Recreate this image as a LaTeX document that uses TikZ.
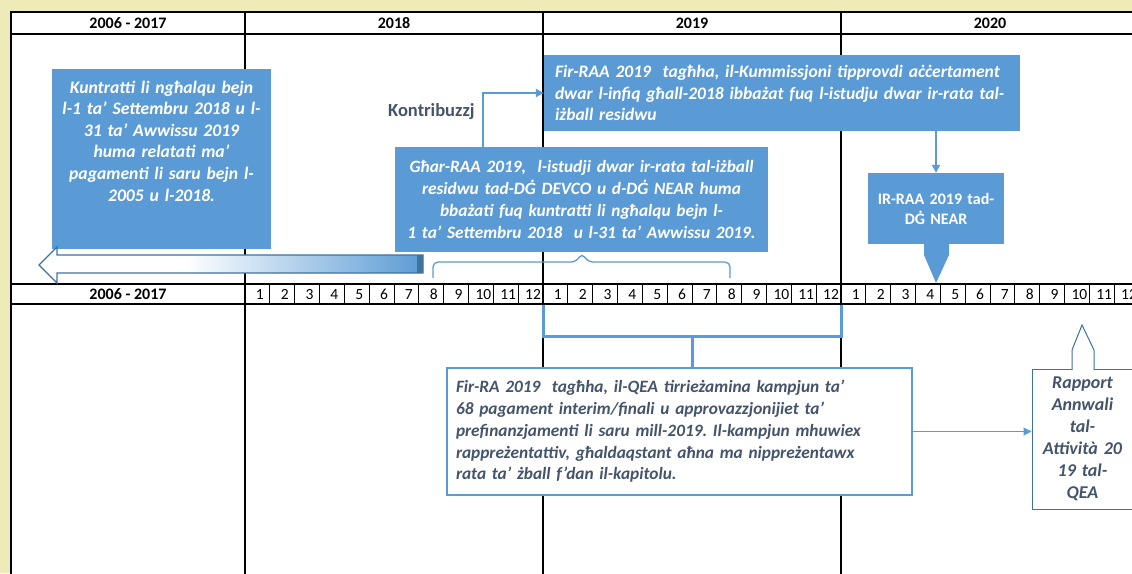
\documentclass[tikz,border=0pt]{standalone}
\usepackage{fontspec}
\setmainfont{Carlito}
\frenchspacing
\usetikzlibrary{arrows.meta,positioning}
\definecolor{ecablue}{HTML}{5B9BD5}
\definecolor{ecaedge}{HTML}{41719C}
\definecolor{ecagray}{HTML}{44546A}
\definecolor{ecapaper}{HTML}{EEEBB8}
\pgfdeclarehorizontalshading{backarrow}{100bp}{color(0bp)=(white); color(25bp)=(white); color(44bp)=(white); color(75bp)=(ecablue); color(100bp)=(ecablue)}

\tikzset{
  gridrule/.style={line width=2.6pt, black, line cap=rect},
  monthrule/.style={line width=0.8pt, black},
  yearlabel/.style={font=\fontsize{16}{19}\selectfont\bfseries, inner sep=0pt},
  monthlabel/.style={font=\fontsize{15.5}{18}\selectfont, inner sep=0pt},
  bluebox/.style={fill=ecablue, text=white, inner sep=0pt, font=\fontsize{17.3}{21.7}\selectfont\bfseries\itshape},
  whitebox/.style={fill=white, text=ecagray, inner sep=0pt, font=\fontsize{17.3}{21.7}\selectfont\bfseries\itshape},
  blueconn/.style={draw=ecablue, line width=2pt},
  smalltip/.style={-{Triangle[length=8pt,width=8pt]}},
}

\begin{document}
\begin{tikzpicture}[x=1pt, y=-1pt]
  \useasboundingbox (0,0) rectangle (1132,573);
  \fill[ecapaper] (0,0) rectangle (1132,573);

  % Timeline table
  \begin{scope}
    \clip (0,0) rectangle (1132,573);
    \fill[white] (11,12) rectangle (1150,580);
    \foreach \y in {12,34,284,304}
      \draw[gridrule] (11,\y) -- (1150,\y);
    \foreach \x in {11,245,543,841}
      \draw[gridrule] (\x,12) -- (\x,580);
    \foreach \c in {0,1,2} {
      \foreach \m in {1,...,12} {
        \node[monthlabel] (m\c-\m) at ({245+298*\c+(\m-0.4)*24.833},294.5) {\m};
        \draw[monthrule] ({245+298*\c+\m*24.833},284) -- ++(0,20);
      }
    }
  \end{scope}

  \node[yearlabel] (hdpast) at (128,23) {2006 - 2017};
  \node[yearlabel] (hd2018) at (394,23) {2018};
  \node[yearlabel] (hd2019) at (692,23) {2019};
  \node[yearlabel] (hd2020) at (990,23) {2020};
  \node[yearlabel] (mopast) at (128,294.5) {2006 - 2017};

  % Contracts box
  \node[bluebox, minimum width=219, minimum height=180] (contracts) at (161.5,159) {};
  \node[bluebox, fill=none, font=\fontsize{17.6}{21.6}\selectfont\bfseries\itshape, text width=212, align=center] (contractstext) at (161.5,141) {Kuntratti li ngħalqu bejn\\
    l-1 ta’ Settembru 2018 u l-\\
    31 ta’ Awwissu 2019\\
    huma relatati ma’\\
    pagamenti li saru bejn l-\\
    2005 u l-2018.};

  % Back arrow
  \shade[shading=backarrow, draw=ecaedge, line width=1.3pt]
    (423,255) -- (57,255) -- (57,247) -- (39,265) -- (57,283) -- (57,273) -- (423,273) -- cycle;
  \fill[ecaedge] (417,255) rectangle (423,273);

  % Studies box
  \node[bluebox, minimum width=373, minimum height=105, text width=365, align=center] (studies) at (581.5,199.5) {Għar-RAA 2019,\ \ l-istudji dwar ir-rata tal-iżball\\
    residwu tad-DĠ DEVCO u d-DĠ NEAR huma\\
    bbażati fuq kuntratti li ngħalqu bejn l-\\
    1 ta’ Settembru 2018\ \ u l-31 ta’ Awwissu 2019.};

  % Brace
  \coordinate (bracetip) at (582,253);
  \draw[ecablue, line width=1.3pt, rounded corners=5pt]
    (433,278) |- (576,262) -- (bracetip) -- (588,262) -| (730,278);

  % Commission box
  \node[bluebox, font=\fontsize{17.5}{21.7}\selectfont\bfseries\itshape, minimum width=476, minimum height=76, text width=454, align=left] (commission) at (782,93) {Fir-RAA 2019\ \ tagħha, il-Kummissjoni tipprovdi aċċertament\\
    dwar l-infiq għall-2018 ibbażat fuq l-istudju dwar ir-rata tal-\\
    iżball residwu};

  \begin{scope}
    \clip (380,95) rectangle (474,130);
    \node[font=\fontsize{18.5}{20}\selectfont\bfseries, text=ecagray, anchor=west, inner sep=0pt] (contrib) at (388,112) {Kontribuzzjoni};
  \end{scope}

  \draw[blueconn, smalltip] ([xshift=88pt]studies.north west) |- (commission.west);

  % NEAR box
  \node[bluebox, font=\fontsize{16}{20}\selectfont\bfseries, minimum width=136, minimum height=71, text width=130, align=center] (irraa) at (936,208.5) {IR-RAA 2019 tad-\\DĠ NEAR};
  \fill[ecablue] (924,243) -- (924,255) -- (936,283) -- (949,255) -- (949,243) -- cycle;
  \draw[blueconn, smalltip] (irraa.north |- commission.south) -- (irraa.north);

  % QEA sample
  \coordinate (bracketmid) at (692,336);
  \draw[blueconn, line width=3pt] (543,305) |- (841,336) -- (841,305);
  \node[whitebox, draw=ecablue, line width=2.2pt, minimum width=465, minimum height=127, text width=447, align=left] (sample) at (679.5,431.5) {Fir-RA 2019\ \ tagħha, il-QEA tirrieżamina kampjun ta’\\
    68 pagament interim/finali u approvazzjonijiet ta’\\
    prefinanzjamenti li saru mill-2019. Il-kampjun mhuwiex\\
    rappreżentattiv, għaldaqstant aħna ma nippreżentawx\\
    rata ta' żball f’dan il-kapitolu.};
  \draw[blueconn, line width=3pt] (bracketmid) -- (bracketmid |- sample.north);

  % Annual activity report
  \node[whitebox, font=\fontsize{18}{22}\selectfont\bfseries\itshape, draw=ecaedge, line width=1pt, minimum width=101, minimum height=140, text width=96, align=center] (aar) at (1082.5,439) {Rapport\\Annwali\\tal-\\Attività 20\\19 tal-\\QEA};
  \filldraw[fill=white, draw=ecaedge, line width=1pt] (1072,370) -- (1072,350) -- (1082,325) -- (1094,350) -- (1094,370);
  \draw[ecablue, line width=1pt, smalltip] (sample.east) -- (sample.east -| aar.west);
\end{tikzpicture}
\end{document}
